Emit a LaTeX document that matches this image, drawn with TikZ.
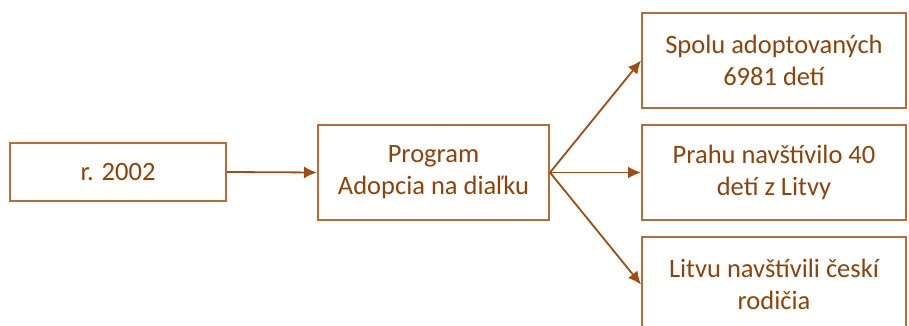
\documentclass[tikz,border=0pt]{standalone}
\usepackage{fontspec}
\setmainfont{Carlito}
\usetikzlibrary{arrows.meta}
\definecolor{boxline}{RGB}{184,108,52}
\definecolor{arrowc}{RGB}{158,78,20}
\definecolor{txt}{RGB}{140,68,12}
\tikzset{
  box/.style={draw=boxline, line width=2pt, fill=white, align=center, text=txt,
    font=\fontsize{26.5}{32}\selectfont, inner sep=0pt},
  conn/.style={draw=arrowc, line width=1.8pt, -{Latex[length=13pt,width=12pt]}}
}
\begin{document}
\begin{tikzpicture}[x=1pt,y=1pt]
\useasboundingbox (0,0) rectangle (909,326);
\clip (0,0) rectangle (909,326);
\node[box, minimum width=216pt, minimum height=58pt] (a) at (118,154) {r. 2002};
\node[box, minimum width=231pt, minimum height=95pt] (b) at (433.5,153.5) {Program\\Adopcia na diaľku};
\node[box, minimum width=264pt, minimum height=95pt] (c1) at (774,265.5) {Spolu adoptovaných\\6981 detí};
\node[box, minimum width=264pt, minimum height=95pt] (c2) at (774,153.5) {Prahu navštívilo 40\\detí z Litvy};
\node[box, minimum width=264pt, minimum height=95pt] (c3) at (774,41.5) {Litvu navštívili českí\\rodičia};
\draw[conn] (a.east) -- (b.west);
\draw[conn] (b.east) -- (c1.west);
\draw[conn] (b.east) -- (c2.west);
\draw[conn] (b.east) -- (c3.west);
\end{tikzpicture}
\end{document}
